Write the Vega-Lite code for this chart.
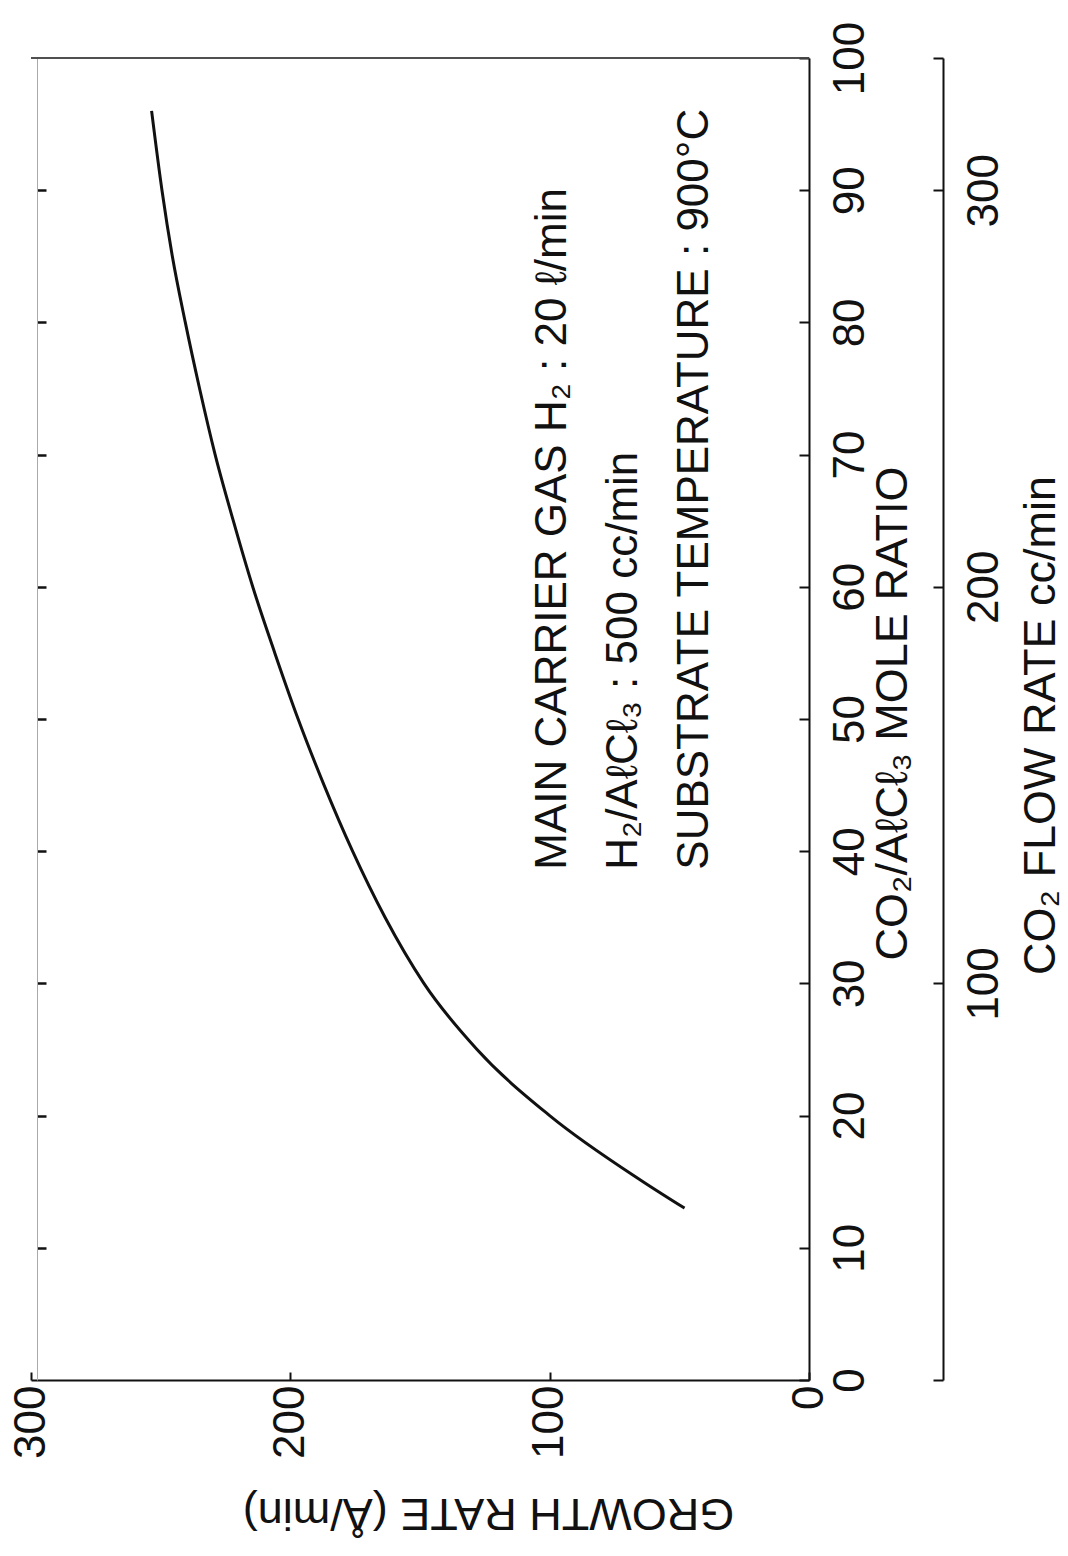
{
  "$schema": "https://vega.github.io/schema/vega-lite/v6.json",
  "width": 778,
  "height": 1322,
  "autosize": {"type": "none"},
  "padding": {"left": 31, "top": 58, "right": 259, "bottom": 176},
  "background": "white",
  "config": {
    "view": {"stroke": null},
    "font": "Liberation Sans",
    "axis": {
      "grid": false,
      "domainColor": "#111",
      "tickColor": "#111",
      "labelColor": "#111",
      "titleColor": "#111",
      "domainWidth": 2,
      "tickWidth": 2,
      "labelFontSize": 44,
      "titleFontSize": 45,
      "titleFontWeight": "normal",
      "labelFont": "Liberation Sans",
      "titleFont": "Liberation Sans"
    }
  },
  "datasets": {
    "curve": [
      {"ratio": 13, "growth": 48},
      {"ratio": 15, "growth": 64},
      {"ratio": 20, "growth": 100},
      {"ratio": 25, "growth": 128},
      {"ratio": 30, "growth": 148.5},
      {"ratio": 35, "growth": 163.5},
      {"ratio": 40, "growth": 176},
      {"ratio": 45, "growth": 187},
      {"ratio": 50, "growth": 197},
      {"ratio": 55, "growth": 206},
      {"ratio": 60, "growth": 214.5},
      {"ratio": 65, "growth": 222},
      {"ratio": 70, "growth": 229},
      {"ratio": 75, "growth": 235},
      {"ratio": 80, "growth": 240.5},
      {"ratio": 85, "growth": 245.5},
      {"ratio": 90, "growth": 249.5},
      {"ratio": 96, "growth": 253.5}
    ],
    "notes": [
      {"growth": 98.7, "ratio": 38.6, "text": "MAIN CARRIER GAS H₂ : 20 ℓ/min"},
      {"growth": 71.3, "ratio": 38.6, "text": "H₂/AℓCℓ₃ : 500 cc/min"},
      {"growth": 44.0, "ratio": 38.6, "text": "SUBSTRATE TEMPERATURE : 900°C"}
    ],
    "flow": [{"flow": 0}, {"flow": 333.333}]
  },
  "layer": [
    {
      "data": {"name": "curve"},
      "mark": {"type": "line", "color": "#111", "strokeWidth": 3, "interpolate": "monotone"},
      "encoding": {
        "x": {
          "field": "growth", "type": "quantitative",
          "scale": {"domain": [0, 300], "reverse": true, "nice": false},
          "axis": {
            "orient": "bottom",
            "values": [0, 100, 200, 300],
            "tickSize": -8,
            "labelAngle": 270,
            "labelAlign": "right",
            "labelBaseline": "middle",
            "labelPadding": 13,
            "title": "GROWTH RATE (Å/min)",
            "titleAngle": 180,
            "titleAlign": "center",
            "titleBaseline": "middle",
            "titleX": 457,
            "titleY": 132
          }
        },
        "y": {
          "field": "ratio", "type": "quantitative",
          "scale": {"domain": [0, 100], "nice": false},
          "axis": {
            "orient": "right",
            "values": [0, 10, 20, 30, 40, 50, 60, 70, 80, 90, 100],
            "tickSize": -10,
            "labelAngle": 270,
            "labelAlign": "center",
            "labelBaseline": "top",
            "labelPadding": 29,
            "title": "CO₂/AℓCℓ₃ MOLE RATIO",
            "titleAngle": 270,
            "titleAlign": "center",
            "titleBaseline": "top",
            "titleX": 61,
            "titleY": 655
          }
        }
      }
    },
    {
      "data": {"name": "notes"},
      "mark": {"type": "text", "angle": 270, "align": "left", "baseline": "middle", "fontSize": 44, "font": "Liberation Sans", "color": "#111"},
      "encoding": {
        "x": {"field": "growth", "type": "quantitative", "scale": {"domain": [0, 300], "reverse": true, "nice": false}, "axis": null},
        "y": {"field": "ratio", "type": "quantitative", "scale": {"domain": [0, 100], "nice": false}, "axis": null},
        "text": {"field": "text"}
      }
    },
    {
      "data": {"name": "flow"},
      "mark": {"type": "point", "opacity": 0},
      "encoding": {
        "y": {
          "field": "flow", "type": "quantitative",
          "scale": {"domain": [0, 333.333], "nice": false},
          "axis": {
            "orient": "right",
            "offset": 134,
            "values": [0, 100, 200, 300, 333.333],
            "labelExpr": "datum.value == 100 || datum.value == 200 || datum.value == 300 ? datum.label : ''",
            "tickSize": -10,
            "labelAngle": 270,
            "labelAlign": "center",
            "labelBaseline": "top",
            "labelPadding": 29,
            "title": "CO₂ FLOW RATE  cc/min",
            "titleAngle": 270,
            "titleAlign": "center",
            "titleBaseline": "top",
            "titleX": 75,
            "titleY": 667
          }
        }
      }
    },
    {
      "data": {"name": "curve"},
      "mark": {"type": "point", "opacity": 0},
      "encoding": {
        "y": {
          "field": "ratio", "type": "quantitative",
          "scale": {"domain": [0, 100], "nice": false},
          "axis": {
            "orient": "left",
            "offset": -6,
            "values": [10, 20, 30, 40, 50, 60, 70, 80, 90],
            "domain": true,
            "domainColor": "#aaaaaa",
            "domainWidth": 1,
            "labels": false,
            "tickSize": -9,
            "tickWidth": 2.5,
            "title": null
          }
        }
      }
    },
    {
      "data": {"name": "flow"},
      "mark": {"type": "rule", "color": "#444", "strokeWidth": 1.5},
      "encoding": {
        "y": {"datum": 100, "type": "quantitative", "scale": {"domain": [0, 100], "nice": false}, "axis": null}
      }
    }
  ],
  "resolve": {"scale": {"y": "independent", "x": "independent"}, "axis": {"x": "independent", "y": "independent"}}
}
